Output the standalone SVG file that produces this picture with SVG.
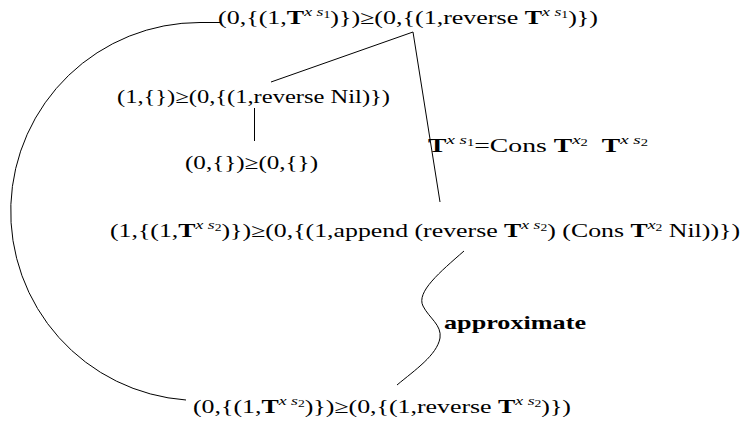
<svg xmlns="http://www.w3.org/2000/svg" width="743" height="426" viewBox="0 0 743 426">
<style>
text{font-family:"Liberation Serif","DejaVu Serif",serif;font-size:19px;fill:#000}
.b{font-weight:bold}
.sup{font-size:13px;font-style:italic}
.sub{font-size:10px}
.c{fill:none;stroke:#000;stroke-width:1}
</style>
<rect width="743" height="426" fill="#fff"/>
<g id="connectors">
<path class="c" d="M 221 22.5 L 200 22.5 A 189 189 0 0 0 186 400"/>
<path class="c" d="M 413 32 L 271 82"/>
<path class="c" d="M 413 32 L 440 202"/>
<path class="c" d="M 254.5 108 L 254.5 141"/>
<path class="c" d="M 464 251 C 440 272, 416 292, 423 306 C 429 318, 442 325, 440 338 C 437 355, 415 370, 397 385"/>
</g>
<g id="n1"><text x="218" y="24" textLength="380" lengthAdjust="spacingAndGlyphs">(0,{(1,<tspan class="b">T</tspan><tspan class="sup" dy="-8">x s</tspan><tspan class="sub" dy="2">1</tspan><tspan dy="6">)})≥(0,{(1,reverse  </tspan><tspan class="b">T</tspan><tspan class="sup" dy="-8">x s</tspan><tspan class="sub" dy="2">1</tspan><tspan dy="6">)})</tspan></text></g>
<g id="n2"><text x="117" y="103" textLength="273" lengthAdjust="spacingAndGlyphs">(1,{})≥(0,{(1,reverse Nil)})</text></g>
<g id="n3"><text x="185" y="169" textLength="133" lengthAdjust="spacingAndGlyphs">(0,{})≥(0,{})</text></g>
<g id="n4"><text x="110" y="237" textLength="630" lengthAdjust="spacingAndGlyphs">(1,{(1,<tspan class="b">T</tspan><tspan class="sup" dy="-8">x s</tspan><tspan class="sub" dy="2">2</tspan><tspan dy="6">)})≥(0,{(1,append (reverse </tspan><tspan class="b">T</tspan><tspan class="sup" dy="-8">x s</tspan><tspan class="sub" dy="2">2</tspan><tspan dy="6">) (Cons </tspan><tspan class="b">T</tspan><tspan class="sup" dy="-8">x</tspan><tspan class="sub" dy="2">2</tspan><tspan dy="6"> Nil))})</tspan></text></g>
<g id="n5"><text x="193" y="413" textLength="378" lengthAdjust="spacingAndGlyphs">(0,{(1,<tspan class="b">T</tspan><tspan class="sup" dy="-8">x s</tspan><tspan class="sub" dy="2">2</tspan><tspan dy="6">)})≥(0,{(1,reverse  </tspan><tspan class="b">T</tspan><tspan class="sup" dy="-8">x s</tspan><tspan class="sub" dy="2">2</tspan><tspan dy="6">)})</tspan></text></g>
<g id="l1"><text x="428" y="152" textLength="220" lengthAdjust="spacingAndGlyphs"><tspan class="b">T</tspan><tspan class="sup" dy="-8">x s</tspan><tspan class="sub" dy="2">1</tspan><tspan dy="6">=Cons </tspan><tspan class="b">T</tspan><tspan class="sup" dy="-8">x</tspan><tspan class="sub" dy="2">2</tspan><tspan dy="6" xml:space="preserve">  </tspan><tspan class="b">T</tspan><tspan class="sup" dy="-8">x s</tspan><tspan class="sub" dy="2">2</tspan></text></g>
<g id="l2"><text x="444" y="329" class="b" textLength="142" lengthAdjust="spacingAndGlyphs">approximate</text></g>
</svg>
